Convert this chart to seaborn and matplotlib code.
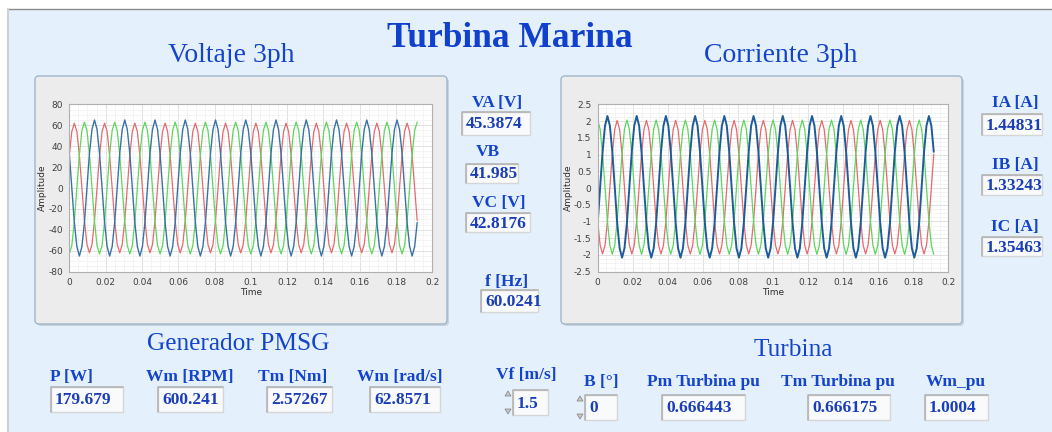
import numpy as np
import pandas as pd
import matplotlib
matplotlib.use("Agg")
import matplotlib.pyplot as plt
import seaborn as sns
from matplotlib.patches import FancyBboxPatch, Rectangle, Polygon
from matplotlib.ticker import MultipleLocator, AutoMinorLocator, FuncFormatter

# waveform sample interval (s) - 12 samples per 60 Hz cycle
dt = 1 / 720

# voltage waveforms (V), one row = one cycle
va = [31, 54, 62, 54, 31, 0, -31, -54, -62, -54, -31, 0,
      31, 54, 62, 54, 31, 0, -31, -54, -62, -54, -31, 0,
      31, 54, 62, 54, 31, 0, -31, -54, -62, -54, -31, 0,
      31, 54, 62, 54, 31, 0, -31, -54, -62, -54, -31, 0,
      31, 54, 62, 54, 31, 0, -31, -54, -62, -54, -31, 0,
      31, 54, 62, 54, 31, 0, -31, -54, -62, -54, -31, 0,
      31, 54, 62, 54, 31, 0, -31, -54, -62, -54, -31, 0,
      31, 54, 62, 54, 31, 0, -31, -54, -62, -54, -31, 0,
      31, 54, 62, 54, 31, 0, -31, -54, -62, -54, -31, 0,
      31, 54, 62, 54, 31, 0, -31, -54, -62, -54, -31, 0,
      31, 54, 62, 54, 31, 0, -31, -54, -62, -54, -31, 0,
      31, 54, 62, 54, 31, 0, -31]
vb = [-63, -55, -32, 0, 32, 55, 63, 55, 32, 0, -32, -55,
      -63, -55, -32, 0, 32, 55, 63, 55, 32, 0, -32, -55,
      -63, -55, -32, 0, 32, 55, 63, 55, 32, 0, -32, -55,
      -63, -55, -32, 0, 32, 55, 63, 55, 32, 0, -32, -55,
      -63, -55, -32, 0, 32, 55, 63, 55, 32, 0, -32, -55,
      -63, -55, -32, 0, 32, 55, 63, 55, 32, 0, -32, -55,
      -63, -55, -32, 0, 32, 55, 63, 55, 32, 0, -32, -55,
      -63, -55, -32, 0, 32, 55, 63, 55, 32, 0, -32, -55,
      -63, -55, -32, 0, 32, 55, 63, 55, 32, 0, -32, -55,
      -63, -55, -32, 0, 32, 55, 63, 55, 32, 0, -32, -55,
      -63, -55, -32, 0, 32, 55, 63, 55, 32, 0, -32, -55,
      -63, -55, -32, 0, 32, 55, 63]
vc = [33, 0, -33, -56, -65, -56, -33, 0, 33, 56, 65, 56,
      33, 0, -33, -56, -65, -56, -33, 0, 33, 56, 65, 56,
      33, 0, -33, -56, -65, -56, -33, 0, 33, 56, 65, 56,
      33, 0, -33, -56, -65, -56, -33, 0, 33, 56, 65, 56,
      33, 0, -33, -56, -65, -56, -33, 0, 33, 56, 65, 56,
      33, 0, -33, -56, -65, -56, -33, 0, 33, 56, 65, 56,
      33, 0, -33, -56, -65, -56, -33, 0, 33, 56, 65, 56,
      33, 0, -33, -56, -65, -56, -33, 0, 33, 56, 65, 56,
      33, 0, -33, -56, -65, -56, -33, 0, 33, 56, 65, 56,
      33, 0, -33, -56, -65, -56, -33, 0, 33, 56, 65, 56,
      33, 0, -33, -56, -65, -56, -33, 0, 33, 56, 65, 56,
      33, 0, -33, -56, -65, -56, -33]

# current waveforms (A)
ia = [-0.99, -1.71, -1.97, -1.71, -0.99, 0, 1.01, 1.75, 2.02, 1.75, 1.01, 0,
      -0.99, -1.71, -1.97, -1.71, -0.99, 0, 1.01, 1.75, 2.02, 1.75, 1.01, 0,
      -0.99, -1.71, -1.97, -1.71, -0.99, 0, 1.01, 1.75, 2.02, 1.75, 1.01, 0,
      -0.99, -1.71, -1.97, -1.71, -0.99, 0, 1.01, 1.75, 2.02, 1.75, 1.01, 0,
      -0.99, -1.71, -1.97, -1.71, -0.99, 0, 1.01, 1.75, 2.02, 1.75, 1.01, 0,
      -0.99, -1.71, -1.97, -1.71, -0.99, 0, 1.01, 1.75, 2.02, 1.75, 1.01, 0,
      -0.99, -1.71, -1.97, -1.71, -0.99, 0, 1.01, 1.75, 2.02, 1.75, 1.01, 0,
      -0.99, -1.71, -1.97, -1.71, -0.99, 0, 1.01, 1.75, 2.02, 1.75, 1.01, 0,
      -0.99, -1.71, -1.97, -1.71, -0.99, 0, 1.01, 1.75, 2.02, 1.75, 1.01, 0,
      -0.99, -1.71, -1.97, -1.71, -0.99, 0, 1.01, 1.75, 2.02, 1.75, 1.01, 0,
      -0.99, -1.71, -1.97, -1.71, -0.99, 0, 1.01, 1.75, 2.02, 1.75, 1.01, 0,
      -0.99, -1.71, -1.97, -1.71, -0.99, 0, 1.01]
ib = [2.03, 1.76, 1.02, 0, -0.99, -1.71, -1.98, -1.71, -0.99, 0, 1.02, 1.76,
      2.03, 1.76, 1.02, 0, -0.99, -1.71, -1.98, -1.71, -0.99, 0, 1.02, 1.76,
      2.03, 1.76, 1.02, 0, -0.99, -1.71, -1.98, -1.71, -0.99, 0, 1.02, 1.76,
      2.03, 1.76, 1.02, 0, -0.99, -1.71, -1.98, -1.71, -0.99, 0, 1.02, 1.76,
      2.03, 1.76, 1.02, 0, -0.99, -1.71, -1.98, -1.71, -0.99, 0, 1.02, 1.76,
      2.03, 1.76, 1.02, 0, -0.99, -1.71, -1.98, -1.71, -0.99, 0, 1.02, 1.76,
      2.03, 1.76, 1.02, 0, -0.99, -1.71, -1.98, -1.71, -0.99, 0, 1.02, 1.76,
      2.03, 1.76, 1.02, 0, -0.99, -1.71, -1.98, -1.71, -0.99, 0, 1.02, 1.76,
      2.03, 1.76, 1.02, 0, -0.99, -1.71, -1.98, -1.71, -0.99, 0, 1.02, 1.76,
      2.03, 1.76, 1.02, 0, -0.99, -1.71, -1.98, -1.71, -0.99, 0, 1.02, 1.76,
      2.03, 1.76, 1.02, 0, -0.99, -1.71, -1.98, -1.71, -0.99, 0, 1.02, 1.76,
      2.03, 1.76, 1.02, 0, -0.99, -1.71, -1.98]
ic = [-1.04, 0, 1.08, 1.86, 2.15, 1.86, 1.08, 0, -1.04, -1.80, -2.08, -1.80,
      -1.04, 0, 1.08, 1.86, 2.15, 1.86, 1.08, 0, -1.04, -1.80, -2.08, -1.80,
      -1.04, 0, 1.08, 1.86, 2.15, 1.86, 1.08, 0, -1.04, -1.80, -2.08, -1.80,
      -1.04, 0, 1.08, 1.86, 2.15, 1.86, 1.08, 0, -1.04, -1.80, -2.08, -1.80,
      -1.04, 0, 1.08, 1.86, 2.15, 1.86, 1.08, 0, -1.04, -1.80, -2.08, -1.80,
      -1.04, 0, 1.08, 1.86, 2.15, 1.86, 1.08, 0, -1.04, -1.80, -2.08, -1.80,
      -1.04, 0, 1.08, 1.86, 2.15, 1.86, 1.08, 0, -1.04, -1.80, -2.08, -1.80,
      -1.04, 0, 1.08, 1.86, 2.15, 1.86, 1.08, 0, -1.04, -1.80, -2.08, -1.80,
      -1.04, 0, 1.08, 1.86, 2.15, 1.86, 1.08, 0, -1.04, -1.80, -2.08, -1.80,
      -1.04, 0, 1.08, 1.86, 2.15, 1.86, 1.08, 0, -1.04, -1.80, -2.08, -1.80,
      -1.04, 0, 1.08, 1.86, 2.15, 1.86, 1.08, 0, -1.04, -1.80, -2.08, -1.80,
      -1.04, 0, 1.08, 1.86, 2.15, 1.86, 1.08]

# indicator labels / values
volt_labels = ["VA [V]", "VB", "VC [V]", "f [Hz]"]
volt_values = ["45.3874", "41.985", "42.8176", "60.0241"]
curr_labels = ["IA [A]", "IB [A]", "IC [A]"]
curr_values = ["1.44831", "1.33243", "1.35463"]
gen_labels = ["P [W]", "Wm [RPM]", "Tm [Nm]", "Wm [rad/s]"]
gen_values = ["179.679", "600.241", "2.57267", "62.8571"]
turb_labels = ["Vf [m/s]", "B [°]", "Pm Turbina pu", "Tm Turbina pu", "Wm_pu"]
turb_values = ["1.5", "0", "0.666443", "0.666175", "1.0004"]

W, H = 1052, 432
BG = "#E4F1FC"
TXT = "#1443CC"
VAL = "#1A3DB8"
SERIF = "Liberation Serif"

sns.set_style("white")
plt.rcParams["font.family"] = ["DejaVu Sans"]

fig = plt.figure(figsize=(W / 100, H / 100), dpi=100, facecolor="white")

# panel layer in pixel coordinates
bg = fig.add_axes([0, 0, 1, 1], zorder=0)
bg.set_xlim(0, W)
bg.set_ylim(H, 0)
bg.axis("off")
bg.add_patch(Rectangle((8, 9), W - 8, H - 9, facecolor=BG, edgecolor="none"))
bg.plot([8, W], [9, 9], color="#8A8A8A", lw=1)
bg.plot([8, 8], [9, H], color="#D0D0D0", lw=1.5)


def frame(x0, y0, x1, y1):
    bg.add_patch(FancyBboxPatch((x0 + 2, y0 + 2), x1 - x0, y1 - y0,
                                boxstyle="round,pad=0,rounding_size=4",
                                facecolor="#C9D3DC", edgecolor="none"))
    bg.add_patch(FancyBboxPatch((x0, y0), x1 - x0, y1 - y0,
                                boxstyle="round,pad=0,rounding_size=4",
                                facecolor="#ECECEC", edgecolor="#9FB6CB", lw=1))


def indicator(label, value, lx, ly, box, spinner=False):
    bg.text(lx, ly, label, ha="center", va="center", family=SERIF,
            fontweight="bold", fontsize=12.5, color=TXT)
    x0, y0, x1, y1 = box
    r = Rectangle((x0, y0), x1 - x0, y1 - y0, facecolor="#F8FAFC",
                  edgecolor="#D6D6D6", lw=1)
    bg.add_patch(r)
    bg.plot([x0, x0, x1], [y1, y0, y0], color="#B4B4B4", lw=1.2)
    t = bg.text(x0 + 4, (y0 + y1) / 2 + 1, value, ha="left", va="center",
                family=SERIF, fontweight="bold", fontsize=12.5, color=VAL)
    t.set_clip_path(r)
    if spinner:
        sx = x0 - 5
        bg.add_patch(Polygon([[sx - 3, y0 + 6], [sx + 3, y0 + 6], [sx, y0 + 1]],
                             closed=True, facecolor="#C8C8C8", edgecolor="#8C8C8C", lw=0.6))
        bg.add_patch(Polygon([[sx - 3, y1 - 6], [sx + 3, y1 - 6], [sx, y1 - 1]],
                             closed=True, facecolor="#C8C8C8", edgecolor="#8C8C8C", lw=0.6))


# titles
bg.text(510, 47, "Turbina Marina", ha="center", va="baseline", family=SERIF,
        fontweight="bold", fontsize=25.5, color="#1040CC")
bg.text(231, 62, "Voltaje 3ph", ha="center", va="baseline", family=SERIF,
        fontsize=20, color=TXT)
bg.text(781, 62, "Corriente 3ph", ha="center", va="baseline", family=SERIF,
        fontsize=20, color=TXT)
bg.text(238, 350, "Generador PMSG", ha="center", va="baseline", family=SERIF,
        fontsize=18.3, color=TXT)
bg.text(793, 356, "Turbina", ha="center", va="baseline", family=SERIF,
        fontsize=18.3, color=TXT)

frame(35, 76, 447, 324)
frame(561, 76, 962, 324)

# indicators
volt_pos = [((497, 103), (462, 112, 530, 135)),
            ((488, 152), (466, 164, 518, 183)),
            ((499, 203), (466, 213, 530, 232)),
            ((507, 282), (481, 290, 538, 312))]
for lab, val, (lp, box) in zip(volt_labels, volt_values, volt_pos):
    indicator(lab, val, lp[0], lp[1], box)

curr_pos = [((1015, 103), (982, 114, 1042, 135)),
            ((1015, 165), (982, 175, 1042, 195)),
            ((1015, 227), (982, 237, 1042, 256))]
for lab, val, (lp, box) in zip(curr_labels, curr_values, curr_pos):
    indicator(lab, val, lp[0], lp[1], box)

gen_pos = [((71, 377), (51, 387, 123, 412)),
           ((190, 377), (158, 387, 223, 412)),
           ((293, 377), (267, 387, 332, 412)),
           ((400, 377), (370, 387, 440, 412))]
for lab, val, (lp, box) in zip(gen_labels, gen_values, gen_pos):
    indicator(lab, val, lp[0], lp[1], box)

turb_pos = [((526, 375), (513, 390, 548, 415), True),
            ((601, 382), (585, 395, 617, 420), True),
            ((703, 382), (662, 395, 745, 420), False),
            ((838, 382), (808, 395, 890, 420), False),
            ((956, 382), (925, 395, 988, 420), False)]
for lab, val, (lp, box, sp) in zip(turb_labels, turb_values, turb_pos):
    indicator(lab, val, lp[0], lp[1], box, spinner=sp)


def waveform_chart(rect, series, colors, widths, ylim, ystep):
    ax = fig.add_axes(rect, zorder=2)
    ax.set_facecolor("white")
    for name, vals in series.items():
        df = pd.DataFrame({"Time": np.arange(len(vals)) * dt, "Amplitude": vals})
        sns.lineplot(data=df, x="Time", y="Amplitude", ax=ax, color=colors[name],
                     lw=widths[name], estimator=None, sort=False)
    ax.set_xlim(0, 0.2)
    ax.set_ylim(*ylim)
    ax.xaxis.set_major_locator(MultipleLocator(0.02))
    ax.yaxis.set_major_locator(MultipleLocator(ystep))
    ax.xaxis.set_minor_locator(AutoMinorLocator(4))
    ax.yaxis.set_minor_locator(AutoMinorLocator(4))
    fmt = FuncFormatter(lambda v, p: "%g" % round(v, 4))
    ax.xaxis.set_major_formatter(fmt)
    ax.yaxis.set_major_formatter(fmt)
    ax.grid(which="major", color="#DCDCDC", lw=0.6)
    ax.grid(which="minor", color="#F0F0F0", lw=0.5)
    ax.set_axisbelow(True)
    for s in ax.spines.values():
        s.set_color("#B0B0B0")
        s.set_linewidth(0.8)
    ax.tick_params(axis="both", which="major", labelsize=6.5, colors="#404040",
                   length=3, width=0.6, pad=1.5)
    ax.tick_params(axis="both", which="minor", length=0)
    ax.set_xlabel("Time", fontsize=6.5, color="#303030", labelpad=1)
    ax.set_ylabel("Amplitude", fontsize=6.5, color="#303030", labelpad=1)
    return ax


ax_bot = 1 - 271.7 / H
ax_h = (271.7 - 104.3) / H

waveform_chart([69.3 / W, ax_bot, 363 / W, ax_h],
               {"VA": va, "VB": vb, "VC": vc},
               {"VA": "#E56A6E", "VB": "#5CD65C", "VC": "#3A72A6"},
               {"VA": 0.9, "VB": 0.9, "VC": 1.0},
               (-80, 80), 20)

waveform_chart([597.7 / W, ax_bot, 350.7 / W, ax_h],
               {"IA": ia, "IB": ib, "IC": ic},
               {"IA": "#E56A6E", "IB": "#5CD65C", "IC": "#1D5C99"},
               {"IA": 0.9, "IB": 0.9, "IC": 1.4},
               (-2.5, 2.5), 0.5)

fig.savefig("out.png", dpi=100, facecolor=fig.get_facecolor())
